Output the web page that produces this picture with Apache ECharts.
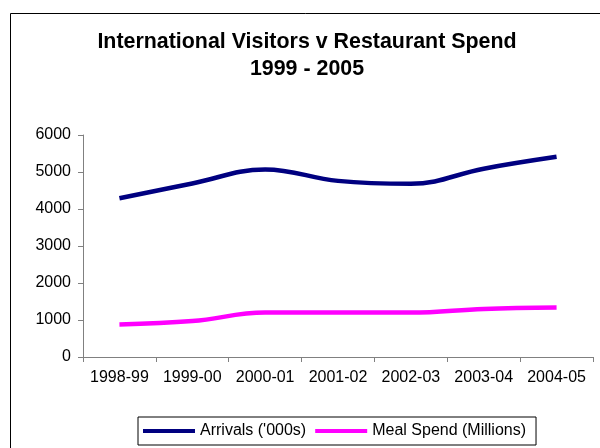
<!DOCTYPE html>
<html>
<head>
<meta charset="utf-8">
<title>International Visitors v Restaurant Spend</title>
<script src="https://cdn.jsdelivr.net/npm/echarts@6/dist/echarts.min.js"></script>
<style>
  html, body { margin: 0; padding: 0; background: #ffffff; }
  #chart { width: 600px; height: 448px; }
</style>
</head>
<body>
<div id="chart"></div>
<script>
// Financial years on the category axis
const years = ['1998-99', '1999-00', '2000-01', '2001-02', '2002-03', '2003-04', '2004-05'];

// International arrivals, thousands of visitors
const arrivals = [4290, 4690, 5070, 4760, 4680, 5090, 5410];

// Spend on meals by visitors, millions
const mealSpend = [880, 970, 1200, 1200, 1200, 1300, 1340];

// Value axis ticks
const yMin = 0;
const yMax = 6000;
const yStep = 1000;

const seriesNames = ["Arrivals ('000s)", 'Meal Spend (Millions)'];
const seriesColors = ['#000080', '#FF00FF'];

const FONT = '"Liberation Sans", Arial, sans-serif';

const chart = echarts.init(document.getElementById('chart'), null, { renderer: 'canvas' });

chart.setOption({
  animation: false,
  backgroundColor: '#ffffff',
  textStyle: { fontFamily: FONT },
  title: {
    text: 'International Visitors v Restaurant Spend\n1999 - 2005',
    left: 302,
    top: 24,
    textAlign: 'center',
    textStyle: {
      fontFamily: FONT,
      fontSize: 21.4,
      fontWeight: 'bold',
      color: '#000000',
      lineHeight: 27
    }
  },
  graphic: [{
    type: 'rect',
    silent: true,
    shape: { x: 10.5, y: 13.5, width: 700, height: 600 },
    style: { fill: 'none', stroke: '#000000', lineWidth: 1 },
    z: -1
  }],
  legend: {
    left: 138,
    top: 417,
    orient: 'horizontal',
    data: seriesNames,
    icon: 'rect',
    itemWidth: 52,
    itemHeight: 4,
    itemGap: 9,
    padding: [5, 10, 5, 5],
    borderColor: '#000000',
    borderWidth: 1,
    backgroundColor: '#ffffff',
    textStyle: { fontFamily: FONT, fontSize: 16, color: '#000000', lineHeight: 18 }
  },
  grid: {
    left: 83,
    right: 7,
    top: 135,
    bottom: 91,
    containLabel: false
  },
  xAxis: {
    type: 'category',
    data: years,
    boundaryGap: true,
    axisLine: { lineStyle: { color: '#808080', width: 1 } },
    axisTick: { show: true, alignWithLabel: false, length: 5, lineStyle: { color: '#808080' } },
    axisLabel: { fontFamily: FONT, fontSize: 16, color: '#000000', margin: 13, interval: 0 },
    splitLine: { show: false }
  },
  yAxis: {
    type: 'value',
    min: yMin,
    max: yMax,
    interval: yStep,
    axisLine: { show: true, lineStyle: { color: '#808080', width: 1 } },
    axisTick: { show: true, length: 5, lineStyle: { color: '#808080' } },
    axisLabel: {
      fontFamily: FONT,
      fontSize: 16,
      color: '#000000',
      margin: 12,
      formatter: (v) => String(v)
    },
    splitLine: { show: false }
  },
  series: [
    {
      name: seriesNames[0],
      type: 'line',
      data: arrivals,
      smooth: 0.4,
      showSymbol: false,
      symbol: 'none',
      lineStyle: { color: seriesColors[0], width: 4.5 },
      itemStyle: { color: seriesColors[0] }
    },
    {
      name: seriesNames[1],
      type: 'line',
      data: mealSpend,
      smooth: 0.4,
      showSymbol: false,
      symbol: 'none',
      lineStyle: { color: seriesColors[1], width: 4.5 },
      itemStyle: { color: seriesColors[1] }
    }
  ]
});
</script>
</body>
</html>
